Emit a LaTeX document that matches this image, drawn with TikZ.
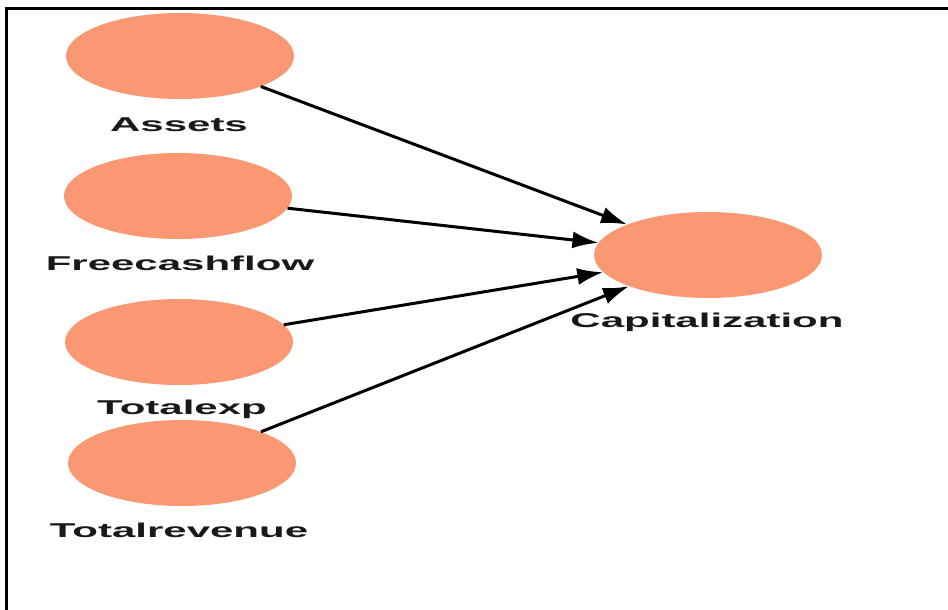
\documentclass[tikz,border=0pt]{standalone}
\usepackage{fontspec}
\setmainfont{Liberation Sans}
\usepackage{graphicx}
\usetikzlibrary{shapes.geometric,arrows.meta}
\definecolor{salmon}{RGB}{250,152,116}
\newcommand{\lbltext}[1]{\scalebox{2.1}[1]{\bfseries #1}}
\tikzset{
  var/.style={ellipse, fill=salmon, draw=none, minimum width=228pt, minimum height=86pt, inner sep=0pt},
  lbl/.style={inner sep=0pt, font=\fontsize{20}{23}\selectfont, text=black!90},
  link/.style={line width=3pt, -{Latex[length=26pt,width=17pt]}},
  frame/.style={line width=3pt, black}
}
\begin{document}
\begin{tikzpicture}[x=1pt,y=-1pt]
\useasboundingbox (0,0) rectangle (948,610);
\fill[white] (0,0) rectangle (948,610);
\coordinate (tl) at (6,9);
\coordinate (tr) at (948,9);
\coordinate (bl) at (6,610);
\draw[frame] (tr) -- (tl) -- (bl);

\node[var] (assets) at (180,56) {};
\node[var] (fcf) at (178,196) {};
\node[var] (texp) at (179,342) {};
\node[var] (trev) at (182,463) {};
\node[var] (cap) at (708,255) {};

\node[lbl] (assetsL) at (179,125) {\lbltext{Assets}};
\node[lbl] (fcfL) at (180,263) {\lbltext{Freecashflow}};
\node[lbl] (texpL) at (182,409) {\lbltext{Totalexp}};
\node[lbl] (trevL) at (179,530) {\lbltext{Totalrevenue}};
\node[lbl] (capL) at (707,322) {\lbltext{Capitalization}};

\draw[link] (assets) -- (cap);
\draw[link] (fcf) -- (cap);
\draw[link] (texp) -- (cap);
\draw[link] (trev) -- (cap);
\end{tikzpicture}
\end{document}
